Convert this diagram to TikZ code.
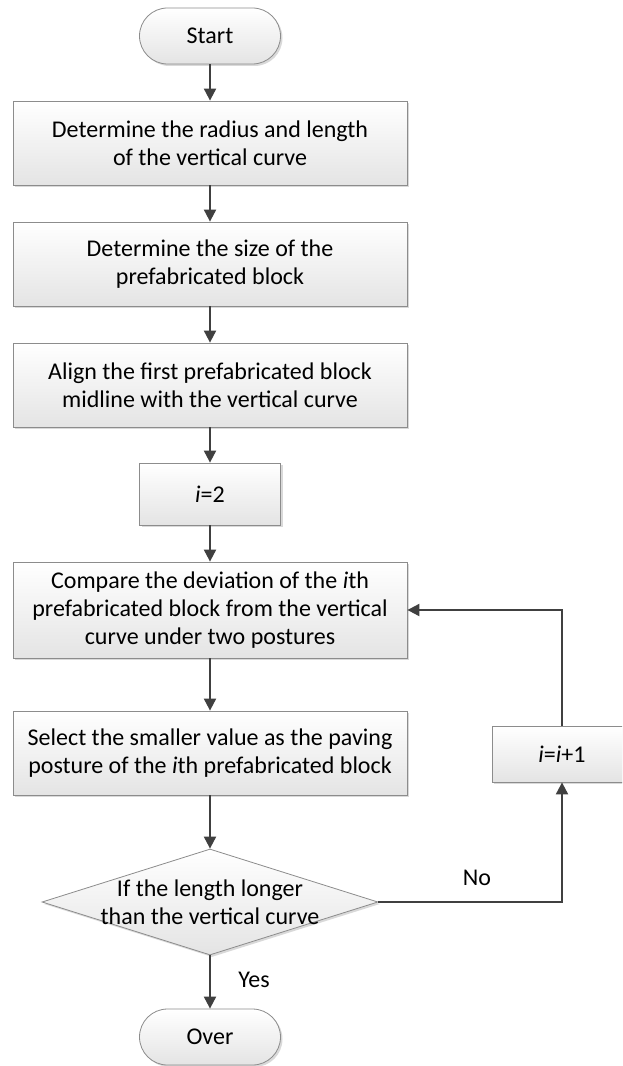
\documentclass[tikz,border=0pt]{standalone}
\usepackage{fontspec}
\setmainfont{Carlito}
\usetikzlibrary{shapes.misc,shapes.geometric,arrows.meta,shadows}
\definecolor{boxedge}{HTML}{8C8C8C}
\definecolor{boxbottom}{HTML}{E4E4E4}
\definecolor{lineclr}{HTML}{404040}
\begin{document}
\begin{tikzpicture}[x=0.75pt,y=-0.75pt,
  every node/.style={font=\fontsize{18pt}{21pt}\selectfont, text=black},
  boxfill/.style={draw=boxedge, line width=0.6pt, top color=white, bottom color=boxbottom,
    drop shadow={shadow xshift=1.5pt, shadow yshift=-1.5pt, fill=black, opacity=0.15}},
  proc/.style={boxfill, rectangle, minimum width=295.5pt, minimum height=63pt, inner sep=0pt, align=center},
  term/.style={boxfill, rounded rectangle, minimum width=105.75pt, minimum height=42pt, inner sep=0pt},
  flow/.style={draw=lineclr, line width=1.5pt, -{Triangle[width=9pt,length=9pt]}},
]
\useasboundingbox (0,0) rectangle (622,1066);
\fill[white] (0,0) rectangle (622,1066);
\clip (0,0) rectangle (622,1066);

% main column
\node[term] (start) at (210,36) {Start};
\node[proc] (b1) at (210,143) {Determine the radius and length\\of the vertical curve};
\node[proc] (b2) at (210,264) {Determine the size of the\\prefabricated block};
\node[proc] (b3) at (210,385) {Align the first prefabricated block\\midline with the vertical curve};
\node[proc, minimum width=105.75pt, minimum height=46.5pt] (b4) at (210,494) {\textit{i}=2};
\node[proc, minimum height=72pt] (b5) at (210,610) {Compare the deviation of the \textit{i}th\\prefabricated block from the vertical\\curve under two postures};
\node[proc] (b6) at (210,753) {Select the smaller value as the paving\\posture of the \textit{i}th prefabricated block};
\node[boxfill, diamond, minimum width=252pt, minimum height=79.5pt, inner sep=0pt] (dec) at (210,902) {};
\node[align=center, inner sep=0pt] (dectext) at (dec.center) {If the length longer\\than the vertical curve};
\node[term] (over) at (210,1037) {Over};

% loop-back step
\node[proc, minimum width=105pt, minimum height=42pt] (inc) at (562,754) {\textit{i}=\textit{i}+1};

% connectors
\draw[flow] (start.south) -- (b1.north);
\draw[flow] (b1.south) -- (b2.north);
\draw[flow] (b2.south) -- (b3.north);
\draw[flow] (b3.south) -- (b4.north);
\draw[flow] (b4.south) -- (b5.north);
\draw[flow] (b5.south) -- (b6.north);
\draw[flow] (b6.south) -- (dec.north);
\draw[flow] (dec.south) -- (over.north);
\draw[flow] (dec.east) -| (inc.south);
\draw[flow] (inc.north) |- (b5.east);

% branch labels
\node (yes) at (254,980) {Yes};
\node (no) at (477,878) {No};
\end{tikzpicture}
\end{document}
